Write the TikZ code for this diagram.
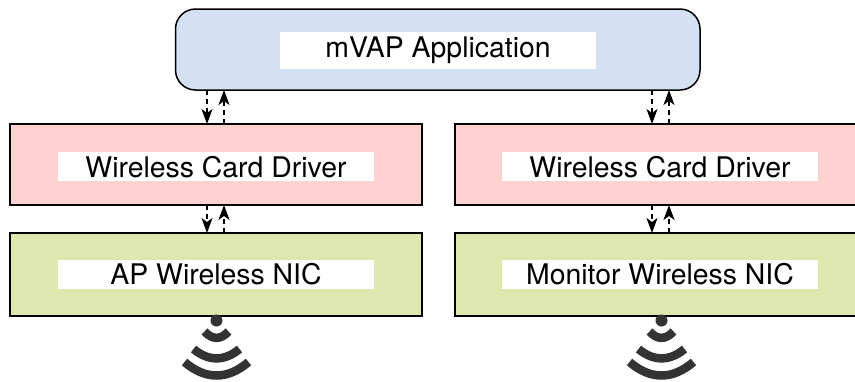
\documentclass[tikz,border=0pt]{standalone}
\usepackage{fontspec}
\setmainfont{TeX Gyre Heros}
\usetikzlibrary{arrows.meta}
\definecolor{bluefill}{HTML}{D4E1F5}
\definecolor{pinkfill}{HTML}{FFD2D2}
\definecolor{greenfill}{HTML}{DDE7AE}
\definecolor{wifi}{HTML}{333333}
\tikzset{
  x=1pt,y=-1pt,
  box/.style={draw=black,line width=1.5pt,minimum width=#1,minimum height=81pt,inner sep=0pt,outer sep=0pt,anchor=north west},
  lab/.style={fill=white,minimum width=316pt,minimum height=29pt,inner sep=0pt,text height=25pt,text depth=4pt,font=\fontsize{28.4pt}{32pt}\selectfont},
  link/.style={draw=black,line width=1.3pt,dash pattern=on 5pt off 4pt,-{Stealth[length=15pt,width=11pt,inset=4pt]}},
  rad/.style={draw=wifi,line width=8.5pt}
}
\begin{document}
\begin{tikzpicture}
\useasboundingbox (0,0) rectangle (855,381);
\node[box=524.5pt,fill=bluefill,rounded corners=20pt] (app) at (175.5,9) {};
\node[box=412pt,fill=pinkfill] (drvA) at (10,124) {};
\node[box=412pt,fill=pinkfill] (drvB) at (455,124) {};
\node[box=412pt,fill=greenfill,minimum height=83pt] (nicA) at (10,233) {};
\node[box=412pt,fill=greenfill,minimum height=83pt] (nicB) at (455,233) {};
\node[lab,minimum height=37pt,text height=21pt,text depth=7pt] (tApp) at (438,50) {mVAP Application};
\node[lab] (tDrvA) at (216,166.5) {Wireless Card Driver};
\node[lab] (tDrvB) at (660,166.5) {Wireless Card Driver};
\node[lab] (tNicA) at (216,274) {AP Wireless NIC};
\node[lab] (tNicB) at (660,274) {Monitor Wireless NIC};
\coordinate (a1) at (207,0);
\coordinate (a2) at (224,0);
\coordinate (b1) at (652,0);
\coordinate (b2) at (669,0);
\draw[link] (app.south -| a1) -- (drvA.north -| a1);
\draw[link] (drvA.north -| a2) -- (app.south -| a2);
\draw[link] (app.south -| b1) -- (drvB.north -| b1);
\draw[link] (drvB.north -| b2) -- (app.south -| b2);
\draw[link] (drvA.south -| a1) -- (nicA.north -| a1);
\draw[link] (nicA.north -| a2) -- (drvA.south -| a2);
\draw[link] (drvB.south -| b1) -- (nicB.north -| b1);
\draw[link] (nicB.north -| b2) -- (drvB.south -| b2);
\foreach \c in {216.5,661.5}{
  \fill[wifi] (\c,320.5) circle (6pt);
  \draw[rad] (\c-12,331.5) .. controls (\c-4,340) and (\c+4,340) .. (\c+12,331.5);
  \draw[rad] (\c-23,349) .. controls (\c-8,361.5) and (\c+8,361.5) .. (\c+23,349);
  \draw[rad] (\c-32,362) .. controls (\c-11,380) and (\c+11,380) .. (\c+32,362);
}
\end{tikzpicture}
\end{document}
